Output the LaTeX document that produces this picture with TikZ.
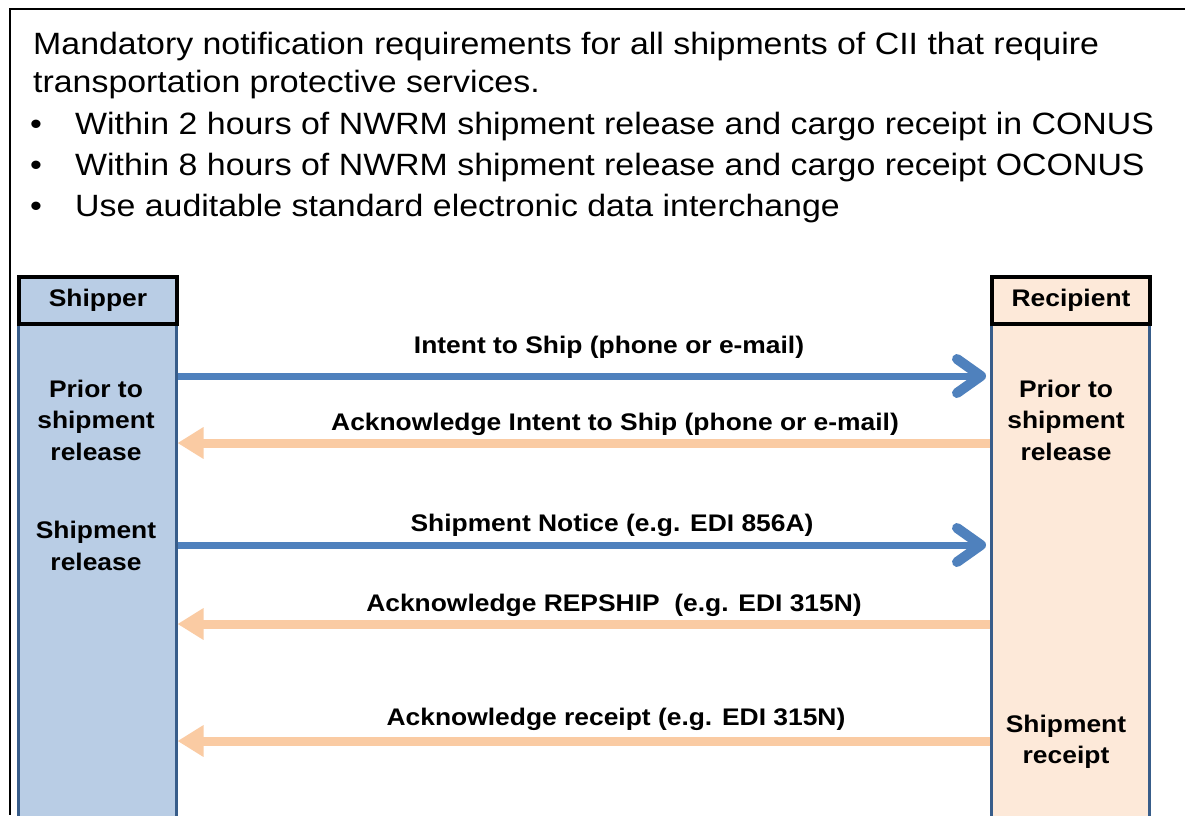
\documentclass[tikz,border=0pt]{standalone}
\usepackage{fontspec}
\setmainfont[FakeStretch=1.1]{Liberation Sans}
\usetikzlibrary{arrows.meta}
\definecolor{laneblue}{RGB}{185,205,229}
\definecolor{laneborder}{RGB}{56,93,138}
\definecolor{lanepeach}{RGB}{253,233,217}
\definecolor{arrblue}{RGB}{79,129,189}
\definecolor{arrpeach}{RGB}{250,203,163}
\tikzset{
  titletext/.style={anchor=base west, inner sep=0pt, font=\fontsize{30.8}{40}\selectfont},
  lanebody/.style={draw=laneborder, line width=2.5pt, anchor=north west, minimum width=158pt, minimum height=560pt, inner sep=0pt},
  lanehead/.style={draw=black, line width=4pt, anchor=north west, minimum width=158pt, minimum height=47pt, inner sep=0pt, font=\bfseries\fontsize{24}{30}\selectfont},
  lanetext/.style={align=center, inner sep=0pt, font=\bfseries\fontsize{24}{31.5}\selectfont},
  msglabel/.style={inner sep=0pt, font=\bfseries\fontsize{24}{30}\selectfont},
  bluearr/.style={draw=arrblue, line width=7pt, -{Straight Barb[length=24pt,width=34pt,line width=10pt,round]}},
  peacharr/.style={draw=arrpeach, line width=9pt, -{Triangle[length=26pt,width=30pt]}}
}
\begin{document}
\begin{tikzpicture}[x=1pt,y=-1pt]
\useasboundingbox (0,0) rectangle (1185,815);
\fill[white] (0,0) rectangle (1185,815);
\draw[line width=2.5pt] (1185,9) -- (10,9) -- (10,815);

\node[titletext] (t1) at (33,54) {Mandatory notification requirements for all shipments of CII that require};
\node[titletext] (t2) at (33,92) {transportation protective services.};
\node[titletext] (b1) at (30,134) {•};
\node[titletext] (l1) at (75,134) {Within 2 hours of NWRM shipment release and cargo receipt in CONUS};
\node[titletext] (b2) at (30,175) {•};
\node[titletext] (l2) at (75,175) {Within 8 hours of NWRM shipment release and cargo receipt OCONUS};
\node[titletext] (b3) at (30,216) {•};
\node[titletext] (l3) at (75,216) {Use auditable standard electronic data interchange};

% lanes
\node[lanebody, fill=laneblue] (shipL) at (17,275) {};
\node[lanehead, fill=laneblue] (shipH) at (17,275) {Shipper};
\node[lanebody, fill=lanepeach] (recL) at (990,275) {};
\node[lanehead, fill=lanepeach] (recH) at (990,275) {Recipient};

\node[lanetext] (s1) at (96,420) {Prior to\\shipment\\release};
\node[lanetext] (s2) at (96,546) {Shipment\\release};
\node[lanetext] (r1) at (1066,420) {Prior to\\shipment\\release};
\node[lanetext] (r2) at (1066,742) {Shipment\\receipt};

% messages
\node[msglabel] (m1) at (609,347) {Intent to Ship (phone or e-mail)};
\draw[bluearr] (shipL.east |- 0,376) -- ([xshift=-4pt]recL.west |- 0,376);

\node[msglabel] (m2) at (615,424) {Acknowledge Intent to Ship (phone or e-mail)};
\draw[peacharr] (recL.west |- 0,443) -- (shipL.east |- 0,443);

\node[msglabel] (m3) at (612,525) {Shipment Notice (e.g. EDI 856A)};
\draw[bluearr] (shipL.east |- 0,545) -- ([xshift=-4pt]recL.west |- 0,545);

\node[msglabel] (m4) at (614,605) {Acknowledge REPSHIP\ \ (e.g. EDI 315N)};
\draw[peacharr] (recL.west |- 0,624) -- (shipL.east |- 0,624);

\node[msglabel] (m5) at (616,719) {Acknowledge receipt (e.g. EDI 315N)};
\draw[peacharr] (recL.west |- 0,741) -- (shipL.east |- 0,741);
\end{tikzpicture}
\end{document}
